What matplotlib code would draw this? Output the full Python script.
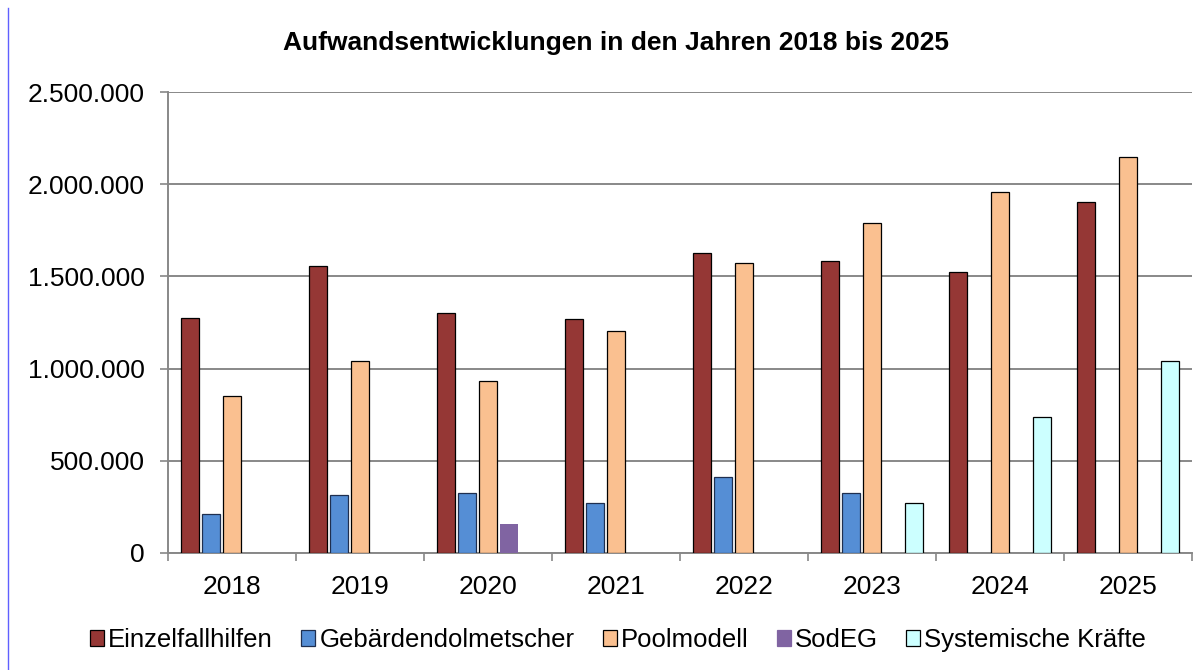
import numpy as np
from matplotlib import pyplot as plt
from matplotlib.patches import Patch
from matplotlib.lines import Line2D
from matplotlib.ticker import FuncFormatter

plt.rcParams['font.family'] = ['Liberation Sans', 'DejaVu Sans']

jahre = ['2018', '2019', '2020', '2021', '2022', '2023', '2024', '2025']
serien = ['Einzelfallhilfen', 'Gebärdendolmetscher', 'Poolmodell', 'SodEG', 'Systemische Kräfte']

einzelfallhilfen = [1272000, 1556000, 1304000, 1268000, 1626000, 1583000, 1525000, 1903000]
gebaerden = [210000, 313000, 324000, 271000, 414000, 326000, 0, 0]
poolmodell = [854000, 1042000, 935000, 1203000, 1574000, 1789000, 1959000, 2149000]
sodeg = [0, 0, 156000, 0, 0, 0, 0, 0]
systemisch = [0, 0, 0, 0, 0, 273000, 738000, 1040000]

farben = ['#953735', '#558ED5', '#FAC090', '#8064A2', '#CCFFFF']
kanten = ['black', '#1F2F4F', 'black', 'none', 'black']

W, H = 1193, 670
fig = plt.figure(figsize=(W / 100, H / 100), dpi=100)
ax = fig.add_axes([168 / W, 1 - 553 / H, 1024 / W, 461 / H])

x = np.arange(len(jahre))
pitch = 0.164
breite = 0.145
for k, werte in enumerate([einzelfallhilfen, gebaerden, poolmodell, sodeg, systemisch]):
    werte = np.array(werte, dtype=float)
    m = werte > 0
    ax.bar(x[m] + (k - 2) * pitch, werte[m], width=breite, color=farben[k],
           edgecolor=kanten[k], linewidth=0.9, zorder=3)

ax.set_xlim(-0.5, len(jahre) - 0.5)
ax.set_ylim(0, 2500000)
ax.set_yticks(np.arange(0, 2500001, 500000))
ax.yaxis.set_major_formatter(FuncFormatter(lambda v, p: f'{int(v):,}'.replace(',', '.')))
ax.grid(axis='y', color='#888888', linewidth=1.4, zorder=1)
ax.set_axisbelow(True)

ax.set_xticks(x)
ax.set_xticklabels(jahre)
ax.set_xticks(np.arange(-0.5, len(jahre)), minor=True)
ax.tick_params(axis='x', which='major', length=0, labelsize=19, pad=16)
ax.tick_params(axis='x', which='minor', length=5.5, width=1.2, color='#888888')
ax.tick_params(axis='y', length=5.8, width=1.2, color='#888888', labelsize=19, pad=11)

for s in ['top', 'right']:
    ax.spines[s].set_visible(False)
for s in ['left', 'bottom']:
    ax.spines[s].set_color('#888888')
    ax.spines[s].set_linewidth(1.4)

fig.text(616 / W, 1 - 43 / H, 'Aufwandsentwicklungen in den Jahren 2018 bis 2025',
         ha='center', va='center', fontsize=19, fontweight='bold')

handles = [Patch(facecolor=farben[k], edgecolor=kanten[k] if kanten[k] != 'none' else farben[k],
                 linewidth=0.9) for k in range(len(serien))]
fig.legend(handles, serien, loc='center', bbox_to_anchor=(618 / W, 1 - 640 / H), ncol=5,
           frameon=False, fontsize=18.5, handlelength=0.55, handleheight=0.55,
           handletextpad=0.15, columnspacing=1.1, borderaxespad=0)

fig.add_artist(Line2D([8 / W, 8 / W], [0, 1 - 8 / H], color='#6060FF', linewidth=1.0))

plt.savefig('out.png', dpi=100)
